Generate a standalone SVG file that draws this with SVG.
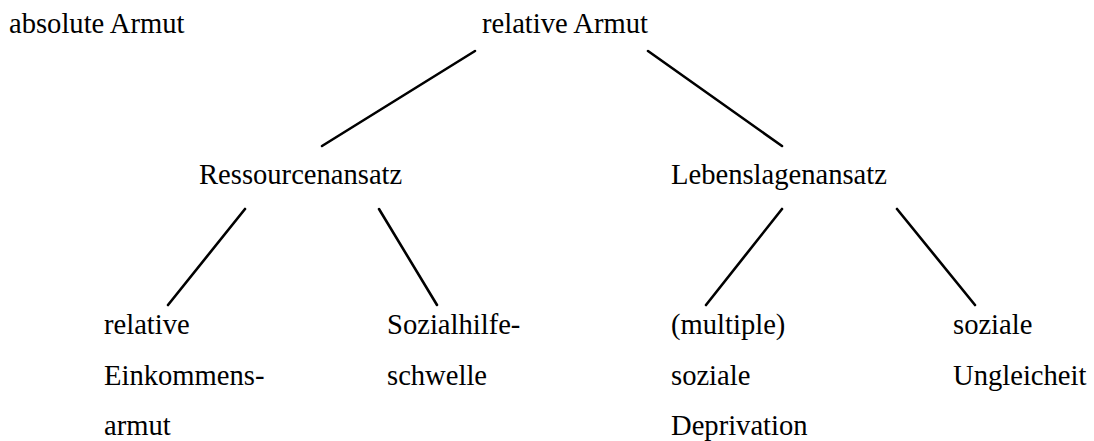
<svg xmlns="http://www.w3.org/2000/svg" width="1094" height="441" viewBox="0 0 1094 441">
<style>
text{font-family:'Liberation Serif','Tinos','Times New Roman','DejaVu Serif',serif;font-size:28.6px;fill:#000}
.c line{stroke:#000;stroke-width:2.6;stroke-linecap:round}
</style>
<rect width="1094" height="441" fill="#fff"/>
<g id="n-absolute"><text x="9" y="33">absolute Armut</text></g>
<g id="n-relative"><text x="482" y="33">relative Armut</text></g>
<g id="n-ressourcen"><text x="199" y="184">Ressourcenansatz</text></g>
<g id="n-lebenslagen"><text x="671" y="184">Lebenslagenansatz</text></g>
<g id="n-einkommen"><text x="104" y="334">relative</text><text x="104" y="385">Einkommens-</text><text x="104" y="435">armut</text></g>
<g id="n-sozialhilfe"><text x="387" y="334">Sozialhilfe-</text><text x="387" y="385">schwelle</text></g>
<g id="n-deprivation"><text x="671" y="334">(multiple)</text><text x="671" y="385">soziale</text><text x="671" y="435">Deprivation</text></g>
<g id="n-ungleichheit"><text x="953" y="334">soziale</text><text x="953" y="385">Ungleicheit</text></g>
<g id="connectors" class="c">
<line x1="475" y1="51" x2="322" y2="146"/>
<line x1="648" y1="51" x2="782" y2="146"/>
<line x1="245" y1="209" x2="168" y2="305"/>
<line x1="379" y1="209" x2="437" y2="305"/>
<line x1="782" y1="209" x2="706" y2="305"/>
<line x1="897" y1="209" x2="975" y2="305"/>
</g>
</svg>
